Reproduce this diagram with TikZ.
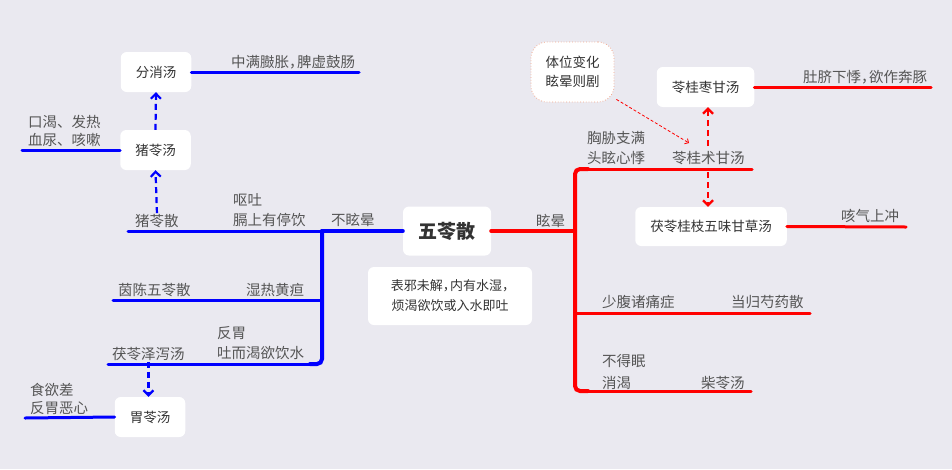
\documentclass[tikz,border=0pt]{standalone}
\usepackage{fontspec}
\setmainfont{Noto Sans CJK SC}
\usetikzlibrary{arrows.meta}
\definecolor{bg}{HTML}{EAE9F0}
\definecolor{txt}{HTML}{555555}
\definecolor{boxtxt}{HTML}{333333}
\definecolor{tipline}{HTML}{F2A58A}
\newcommand{\hcomma}{\makebox[0.55em][l]{，}}
\tikzset{>={Straight Barb[length=5pt,width=10pt]},
  topic/.style={fill=white,rounded corners=6pt,inner xsep=15pt,minimum height=40pt,text=boxtxt,font=\fontsize{13.5}{16}\selectfont},
  lbl/.style={anchor=west,inner sep=1pt,text=txt,align=left,font=\fontsize{14.5}{20}\selectfont},
  bline/.style={blue,line width=3pt,line cap=round},
  rline/.style={red,line width=3pt,line cap=round},
  bdash/.style={blue,line width=2.2pt,dash pattern=on 6pt off 4pt,->},
  rdash/.style={red,line width=2.2pt,dash pattern=on 6pt off 4pt,->}}

\begin{document}
\begin{tikzpicture}[x=1pt,y=-1pt]
\fill[bg] (0,0) rectangle (952,469);
\useasboundingbox (0,0) rectangle (952,469);

% central topic
\node[topic,minimum width=88pt,minimum height=49pt,font=\fontsize{19}{22}\selectfont\bfseries] (wuling) at (447,231) {五苓散};
\node[topic,minimum width=164pt,minimum height=58pt,align=center,font=\fontsize{13}{20}\selectfont] (note) at (450,296) {表邪未解\hcomma 内有水湿\hcomma\\烦渴欲饮或入水即吐};

% blue side
\node[topic,minimum width=68pt] (fenxiao) at (156,72) {分消汤};
\node[topic,minimum width=69pt] (zhuling) at (155.5,150) {猪苓汤};
\node[topic,minimum width=70pt] (weiling) at (150,417) {胃苓汤};
\node[lbl] (fxlbl) at (230,62) {中满臌胀\hcomma 脾虚鼓肠};
\node[lbl,font=\fontsize{14.5}{18.5}\selectfont] (zllbl) at (27,131) {口渴、发热\\血尿、咳嗽};
\node[lbl] (zlsan) at (134,221) {猪苓散};
\node[lbl] (outu) at (232,210.5) {呕吐\\膈上有停饮};
\node[lbl] (bxy) at (330,220) {不眩晕};
\node[lbl] (ycwl) at (117,289.5) {茵陈五苓散};
\node[lbl] (srhd) at (245,289.5) {湿热黄疸};
\node[lbl] (fanwei) at (216,343.5) {反胃\\吐而渴欲饮水};
\node[lbl] (flzx) at (111,354) {茯苓泽泻汤};
\node[lbl,font=\fontsize{14.5}{18}\selectfont] (wllbl) at (29,399) {食欲差\\反胃恶心};

\coordinate (fxend) at (359,72);
\coordinate (zlend) at (22,150);
\coordinate (wlend) at (25,418);
\coordinate (bjoin) at (322,231);
\coordinate (b1end) at (128,231);
\coordinate (b2end) at (113,300);
\coordinate (b3end) at (108,364);

\draw[bline,line width=4pt] (wuling.west) -- (bjoin);
\draw[bline] (bjoin) -- (b1end);
\draw[bline,line width=4pt,rounded corners=5pt] (bjoin) -- (322,364) -- (310,364);
\draw[bline] (310,364) -- (b3end);
\draw[bline] (322,300) -- (b2end);
\draw[bline] (fenxiao.east) -- (fxend);
\draw[bline] (zhuling.west) -- (zlend);
\draw[bline] (weiling.west) -- (wlend);
\draw[bdash] (zlsan.north) -- (zhuling.south);
\draw[bdash] (zhuling.north) -- (fenxiao.south);
\draw[bdash] (flzx.south) -- (flzx.south |- weiling.north);

% red side
\node[topic,minimum width=97pt] (lingzao) at (705.5,87) {苓桂枣甘汤};
\node[topic,minimum width=150pt,minimum height=39pt] (linggan) at (711,226.5) {茯苓桂枝五味甘草汤};
\node[fill=white,draw=tipline,dotted,line width=0.8pt,rounded corners=16pt,minimum width=83pt,minimum height=60pt,align=center,text=boxtxt,font=\fontsize{13.5}{18.5}\selectfont] (tip) at (572.5,72) {体位变化\\眩晕则剧};
\node[lbl] (xuanyun) at (535,221) {眩晕};
\node[lbl] (xiongxie) at (586,148) {胸胁支满\\头眩心悸};
\node[lbl] (lgzs) at (671,158) {苓桂术甘汤};
\node[lbl] (lzlbl) at (802,77.5) {肚脐下悸\hcomma 欲作奔豚};
\node[lbl] (lglbl) at (840,216) {咳气上冲};
\node[lbl] (shaofu) at (601,302) {少腹诸痛症};
\node[lbl] (dangui) at (730,302) {当归芍药散};
\node[lbl,font=\fontsize{14.5}{22}\selectfont] (budemian) at (601,372) {不得眠\\消渴};
\node[lbl] (chailing) at (700,383) {柴苓汤};

\coordinate (rjoin) at (575,231);
\coordinate (r1end) at (752,169);
\coordinate (r2end) at (810,313);
\coordinate (r3end) at (751,391);
\coordinate (lzend) at (931,87);
\coordinate (lgend) at (906,227);
\coordinate (lgtop) at (708,146);
\coordinate (lgbot) at (708,172);

\draw[rline,line width=4pt] (wuling.east) -- (rjoin);
\draw[rline,line width=4pt,rounded corners=5pt] (588,169) -- (575,169) -- (575,391) -- (588,391);
\draw[rline] (588,169) -- (r1end);
\draw[rline] (575,313) -- (r2end);
\draw[rline] (588,391) -- (r3end);
\draw[rline] (lingzao.east) -- (lzend);
\draw[rline] (linggan.east) -- (lgend);
\draw[rdash] (lgtop) -- (lgtop |- lingzao.south);
\draw[rdash] (lgbot) -- (lgbot |- linggan.north);
\draw[red,line width=0.8pt,dash pattern=on 3pt off 2pt,-{Straight Barb[length=3pt,width=6pt]}] ([xshift=2pt,yshift=3pt]tip.south east) -- ([xshift=-19pt,yshift=3pt]lgtop);
\end{tikzpicture}
\end{document}
